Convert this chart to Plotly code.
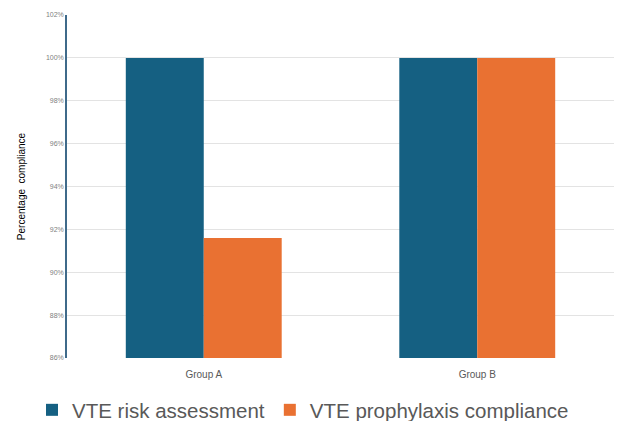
import plotly.graph_objects as go

groups = ["Group A", "Group B"]
risk_assessment = [100.0, 100.0]
prophylaxis_compliance = [91.6, 100.0]
y_ticks = [86, 88, 90, 92, 94, 96, 98, 100, 102]
y_tick_labels = [f"{v}%" for v in y_ticks]

W, H = 617, 421

fig = go.Figure()
fig.add_trace(go.Bar(name="VTE risk assessment", x=groups, y=risk_assessment,
                     marker=dict(color="#156082", line=dict(width=0))))
fig.add_trace(go.Bar(name="VTE prophylaxis compliance", x=groups, y=prophylaxis_compliance,
                     marker=dict(color="#E97132", line=dict(width=0))))

fig.update_layout(
    width=W, height=H,
    margin=dict(l=67, r=3, t=15, b=63),
    paper_bgcolor="white", plot_bgcolor="white",
    barmode="group", bargap=0.43, bargroupgap=0,
    font=dict(family="Arial, Liberation Sans, sans-serif"),
    showlegend=True,
    legend=dict(orientation="h", xref="container", yref="container",
                x=32 / W, xanchor="left",
                y=(H - 410) / H, yanchor="middle",
                font=dict(size=20.5, color="#595959"), itemwidth=30,
                traceorder="normal"),
)
fig.update_xaxes(showgrid=False, showline=False,
                 ticks="outside", ticklen=7, tickcolor="rgba(0,0,0,0)",
                 tickfont=dict(size=10, color="#595959"))
fig.update_yaxes(range=[86, 102], tickvals=y_ticks, ticktext=y_tick_labels,
                 showgrid=True, gridcolor="#e3e3e3", gridwidth=1,
                 showline=True, linecolor="#3f6a8a", linewidth=1.5,
                 zeroline=False, ticks="",
                 tickfont=dict(size=7, color="#808080"),
                 title=dict(text="Percentage  compliance", standoff=18,
                            font=dict(size=10, color="#000000")))

fig.write_html("out.html")
